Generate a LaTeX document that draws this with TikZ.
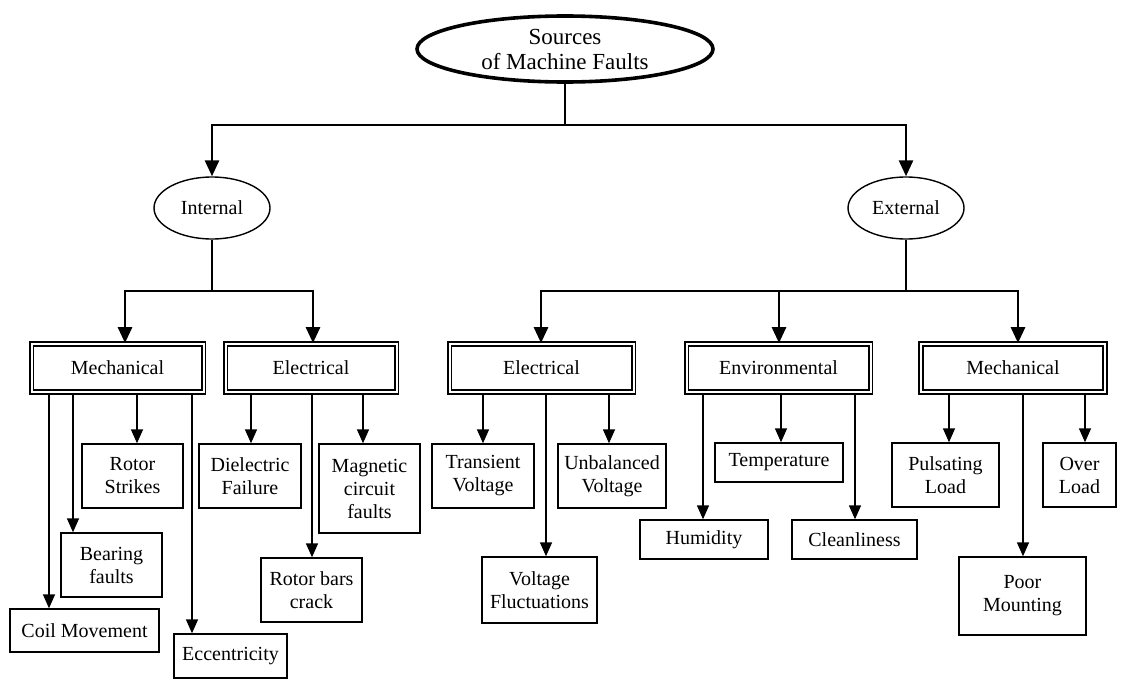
\documentclass[tikz,border=0pt]{standalone}
\usepackage{fontspec}
\setmainfont{Liberation Serif}
\usetikzlibrary{shapes.geometric,arrows.meta}

\begin{document}
\begin{tikzpicture}[x=0.5pt,y=-0.5pt]
	\tikzstyle{root} = [ellipse, draw, line width=1.8pt, inner sep=0pt, minimum width=148pt, minimum height=33pt, align=center, font=\fontsize{11.5}{12.5}\selectfont]
	\tikzstyle{side} = [ellipse, draw, line width=0.7pt, inner sep=0pt, minimum width=58pt, minimum height=31pt, font=\fontsize{10}{11.5}\selectfont]
	\tikzstyle{group} = [draw, double, line width=0.9pt, double distance=1pt, inner sep=0pt, minimum height=24pt, font=\fontsize{10}{11.5}\selectfont]
	\tikzstyle{fault} = [draw, line width=0.7pt, inner sep=0pt, align=center, font=\fontsize{10}{11.5}\selectfont]
	\tikzset{edge/.style = {-{Triangle[length=8pt,width=7pt]}, line width=1.4pt}}
	\tikzset{thinedge/.style = {-{Triangle[length=7pt,width=6pt]}, line width=0.75pt}}
	\tikzset{trunk/.style = {line width=1.4pt}}

	\useasboundingbox (0,0) rectangle (1123,680);

	\node[root](source) at (565,49) {Sources\\of Machine Faults};
	\node[side](internal) at (212,208) {Internal};
	\node[side](external) at (906,208) {External};
	\coordinate (split) at (565,125);
	\coordinate (isplit) at (212,291);
	\coordinate (esplit) at (906,291);
	\draw[trunk](source) -- (split);
	\draw[edge](split) -| (internal);
	\draw[edge](split) -| (external);

	% internal side
	\node[group, minimum width=86pt](imech) at (117.5,368) {Mechanical};
	\node[group, minimum width=85.5pt](ielec) at (311,368) {Electrical};
	\draw[trunk](internal) -- (isplit);
	\draw[edge](isplit) -| (imech.north -| 125,0);
	\draw[edge](isplit) -| (ielec.north -| 313,0);

	\node[fault, minimum width=74.5pt, minimum height=21.5pt](coil) at (84.5,630.5) {Coil Movement};
	\node[fault, minimum width=50.5pt, minimum height=32pt](bearing) at (111.5,565) {Bearing\\faults};
	\node[fault, minimum width=50.5pt, minimum height=32pt](strikes) at (132.5,476) {Rotor\\Strikes};
	\node[fault, minimum width=56.5pt, minimum height=22pt](eccent) at (230.5,656) {Eccentricity};
	\draw[thinedge](imech.south -| 49,0) -- (coil.north -| 49,0);
	\draw[thinedge](imech.south -| 73,0) -- (bearing.north -| 73,0);
	\draw[thinedge](imech.south -| 137,0) -- (strikes.north -| 137,0);
	\draw[thinedge](imech.south -| 192,0) -- (eccent.north -| 192,0);

	\node[fault, minimum width=51pt, minimum height=32pt](dielec) at (250,476) {Dielectric\\Failure};
	\node[fault, minimum width=50.5pt, minimum height=32pt](rotorbars) at (311.5,590) {Rotor bars\\crack};
	\node[fault, minimum width=50.5pt, minimum height=44.5pt](magnetic) at (369.5,488.5) {Magnetic\\circuit\\faults};
	\draw[thinedge](ielec.south -| 251,0) -- (dielec.north -| 251,0);
	\draw[thinedge](ielec.south -| 312,0) -- (rotorbars.north -| 312,0);
	\draw[thinedge](ielec.south -| 363,0) -- (magnetic.north -| 363,0);

	% external side
	\node[group, minimum width=92pt](eelec) at (541.5,368) {Electrical};
	\node[group, minimum width=92pt](eenv) at (778.5,368) {Environmental};
	\node[group, minimum width=92pt](emech) at (1013,368) {Mechanical};
	\draw[trunk](external) -- (esplit);
	\draw[edge](esplit) -| (eelec.north -| 541,0);
	\draw[edge](esplit) -| (eenv.north -| 779,0);
	\draw[edge](esplit) -| (emech.north -| 1018,0);

	\node[fault, minimum width=51pt, minimum height=32pt](transient) at (483,476) {Transient\\Voltage};
	\node[fault, minimum width=57.5pt, minimum height=33pt](fluct) at (539.5,590) {Voltage\\Fluctuations};
	\node[fault, minimum width=54pt, minimum height=32pt](unbal) at (612,476) {Unbalanced\\Voltage};
	\draw[thinedge](eelec.south -| 483,0) -- (transient.north -| 483,0);
	\draw[thinedge](eelec.south -| 546,0) -- (fluct.north -| 546,0);
	\draw[thinedge](eelec.south -| 609,0) -- (unbal.north -| 609,0);

	\node[fault, minimum width=64pt, minimum height=19.5pt](humidity) at (704,539.5) {Humidity};
	\node[fault, minimum width=64pt, minimum height=19.5pt](temp) at (779,462.5) {Temperature};
	\node[fault, minimum width=62.5pt, minimum height=19.5pt](clean) at (854.5,539.5) {Cleanliness};
	\draw[thinedge](eenv.south -| 703,0) -- (humidity.north -| 703,0);
	\draw[thinedge](eenv.south -| 781,0) -- (temp.north -| 781,0);
	\draw[thinedge](eenv.south -| 855,0) -- (clean.north -| 855,0);

	\node[fault, minimum width=53.5pt, minimum height=32pt](pulsating) at (945.5,475) {Pulsating\\Load};
	\node[fault, minimum width=63.5pt, minimum height=39pt](mounting) at (1022.5,596) {Poor\\Mounting};
	\node[fault, minimum width=36.5pt, minimum height=32pt](overload) at (1079.5,475) {Over\\Load};
	\draw[thinedge](emech.south -| 949,0) -- (pulsating.north -| 949,0);
	\draw[thinedge](emech.south -| 1023,0) -- (mounting.north -| 1023,0);
	\draw[thinedge](emech.south -| 1085,0) -- (overload.north -| 1085,0);
\end{tikzpicture}
\end{document}
